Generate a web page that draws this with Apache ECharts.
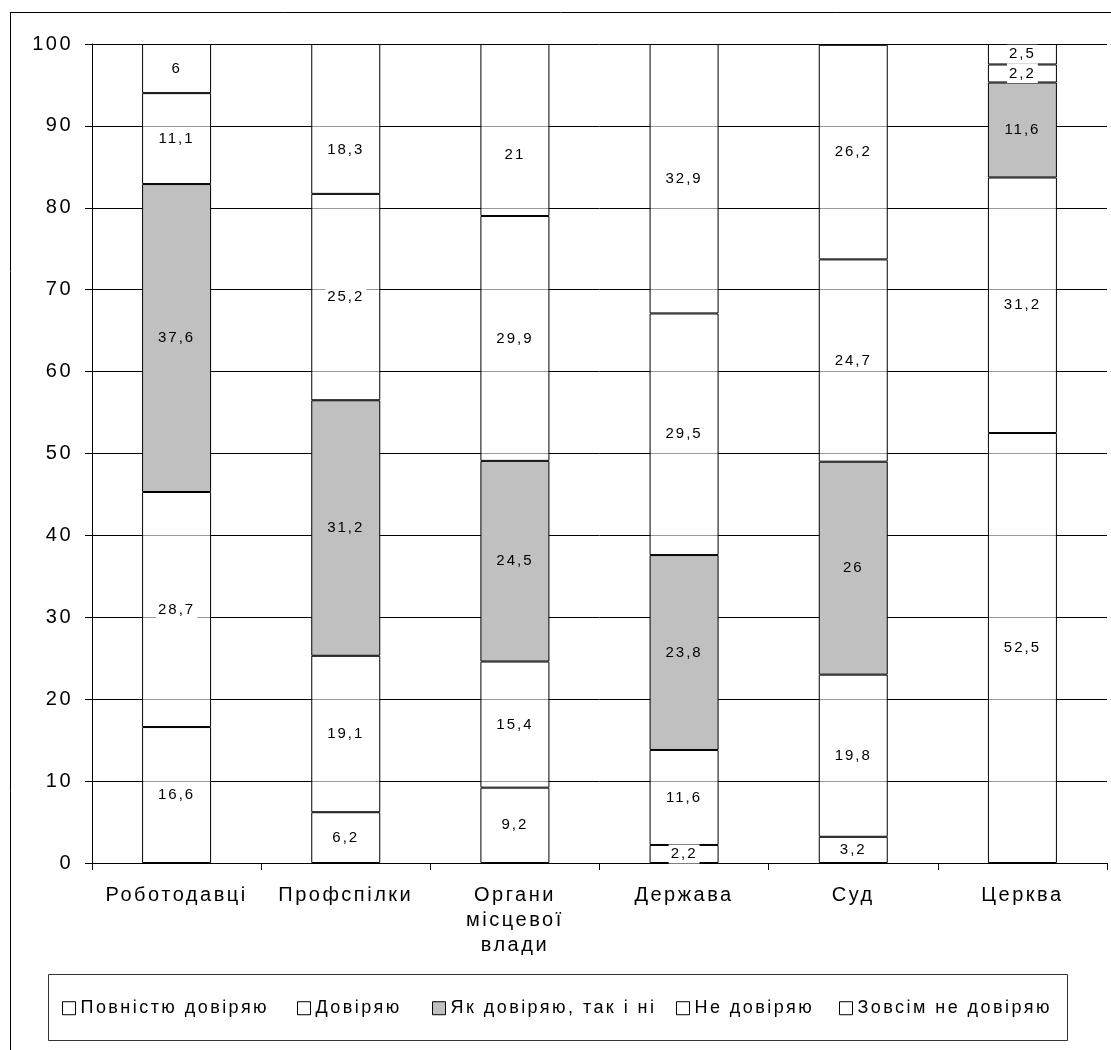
<!DOCTYPE html>
<html>
<head>
<meta charset="utf-8">
<script src="https://cdn.jsdelivr.net/npm/echarts@6/dist/echarts.min.js"></script>
<style>
html,body{margin:0;padding:0;background:#fff;}
#chart{width:1111px;height:1050px;}
</style>
</head>
<body>
<div id="chart"></div>
<script>
var categories = ['Роботодавці', 'Профспілки', 'Органи\nмісцевої\nвлади', 'Держава', 'Суд', 'Церква'];
var seriesNames = ['Повністю довіряю', 'Довіряю', 'Як довіряю, так і ні', 'Не довіряю', 'Зовсім не довіряю'];
var fullyTrust = [16.6, 6.2, 9.2, 2.2, 3.2, 52.5];
var trust = [28.7, 19.1, 15.4, 11.6, 19.8, 31.2];
var neutral = [37.6, 31.2, 24.5, 23.8, 26, 11.6];
var distrust = [11.1, 25.2, 29.9, 29.5, 24.7, 2.2];
var fullyDistrust = [6, 18.3, 21, 32.9, 26.2, 2.5];
var yTicks = {min: 0, max: 100, interval: 10};

// wide letter spacing like the original chart's text
(function () {
  var p = CanvasRenderingContext2D.prototype;
  if (!('letterSpacing' in p)) return;
  var spacing = {15: 2, 18: 2.45, 20: 2.5};
  function ls(ctx) {
    var m = /(\d+(?:\.\d+)?)px/.exec(ctx.font || '');
    var s = m ? parseFloat(m[1]) : 12;
    var v = spacing[s] != null ? spacing[s] : Math.round(s * 0.14);
    ctx.letterSpacing = v + 'px';
  }
  var of = p.fillText, om = p.measureText, os = p.strokeText;
  p.fillText = function () { ls(this); return of.apply(this, arguments); };
  p.strokeText = function () { ls(this); return os.apply(this, arguments); };
  p.measureText = function () { ls(this); return om.apply(this, arguments); };
})();

var values = [fullyTrust, trust, neutral, distrust, fullyDistrust];
var fills = ['rgba(255,255,255,0.6)', 'rgba(255,255,255,0.6)', '#c0c0c0', 'rgba(255,255,255,0.6)', 'rgba(255,255,255,0.6)'];
var legendLeft = [62, 297, 432, 676, 839];
var labelShift = {'4-1': 31, '4-2': 25};
var font = 'Arial, "Liberation Sans", sans-serif';

var chart = echarts.init(document.getElementById('chart'), null, {renderer: 'canvas'});

var series = values.map(function (v, i) {
  return {
    name: seriesNames[i],
    type: 'bar',
    stack: 'total',
    barWidth: 69,
    data: v.map(function (val, j) {
      var sh = labelShift[i + '-' + j];
      return sh ? {value: val, label: {offset: [0, sh]}} : val;
    }),
    itemStyle: {color: fills[i], borderColor: '#000', borderWidth: 1},
    emphasis: {disabled: true},
    label: {
      show: true,
      position: 'inside',
      color: '#000',
      fontSize: 15,
      fontFamily: font,
      backgroundColor: i === 2 ? 'transparent' : '#fff',
      padding: [1, 2],
      formatter: function (p) { return String(p.value).replace('.', ','); }
    }
  };
});

var legends = seriesNames.map(function (n, i) {
  return {
    data: [n],
    left: legendLeft[i],
    top: 998,
    padding: 0,
    itemWidth: 13,
    itemHeight: 13,
    icon: 'rect',
    itemStyle: {borderColor: '#000', borderWidth: 1},
    textStyle: {fontSize: 18, color: '#000', fontFamily: font},
    selectedMode: false
  };
});

chart.setOption({
  animation: false,
  backgroundColor: '#fff',
  textStyle: {fontFamily: font},
  grid: {left: 92, right: 4, top: 44, bottom: 187, containLabel: false},
  legend: legends,
  graphic: [
    {type: 'line', shape: {x1: 10.5, y1: 12, x2: 10.5, y2: 1050}, style: {stroke: '#000', lineWidth: 1}, silent: true},
    {type: 'line', shape: {x1: 10, y1: 12.5, x2: 1111, y2: 12.5}, style: {stroke: '#000', lineWidth: 1}, silent: true},
    {type: 'rect', shape: {x: 48.5, y: 974.5, width: 1019, height: 66}, style: {fill: 'none', stroke: '#333', lineWidth: 1}, silent: true, z: -1}
  ],
  xAxis: {
    type: 'category',
    data: categories,
    boundaryGap: true,
    axisLine: {lineStyle: {color: '#000', width: 1}},
    axisTick: {show: true, length: 7, inside: false, lineStyle: {color: '#000'}},
    axisLabel: {fontSize: 20, color: '#000', margin: 20, lineHeight: 25, fontFamily: font, interval: 0},
    splitLine: {show: false}
  },
  yAxis: {
    type: 'value',
    min: yTicks.min,
    max: yTicks.max,
    interval: yTicks.interval,
    axisLine: {show: true, lineStyle: {color: '#000', width: 1}},
    axisTick: {show: true, length: 7, lineStyle: {color: '#000'}},
    axisLabel: {fontSize: 20, color: '#000', margin: 19, fontFamily: font},
    splitLine: {show: true, lineStyle: {color: '#000', width: 1}}
  },
  series: series
});
</script>
</body>
</html>
